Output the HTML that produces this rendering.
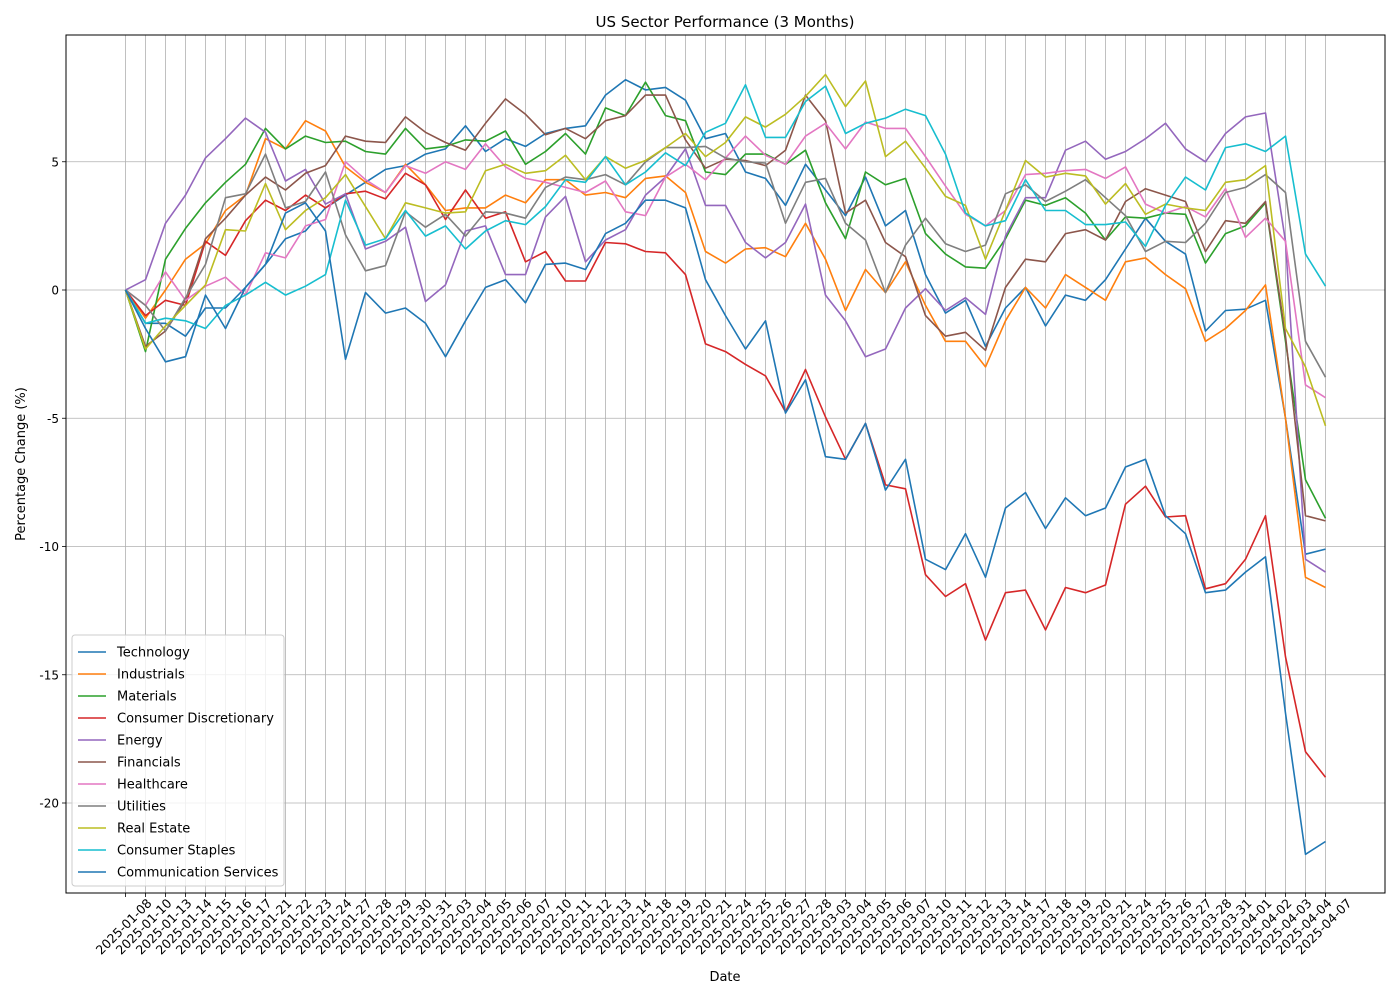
<!DOCTYPE html>
<html><head><meta charset="utf-8"><style>
body{margin:0;background:#fff;}
svg{display:block;font-family:"DejaVu Sans","Liberation Sans",sans-serif;}
</style></head><body>
<svg id="chart" width="1400" height="1000">
<rect x="0" y="0" width="1400" height="1000" fill="#fff"/>
<g id="grid"></g>
<g id="series"></g>
<rect x="66" y="35" width="1319" height="858" fill="none" stroke="#000" stroke-width="1"/>
<g id="axes"></g>
<text x="725" y="27" text-anchor="middle" font-size="15">US Sector Performance (3 Months)</text>
<text x="725" y="981" text-anchor="middle" font-size="13">Date</text>
<text transform="translate(25,464) rotate(-90)" text-anchor="middle" font-size="13">Percentage Change (%)</text>
<g id="legend"></g>
</svg>
<script>
const dates=["2025-01-08","2025-01-10","2025-01-13","2025-01-14","2025-01-15","2025-01-16","2025-01-17","2025-01-21","2025-01-22","2025-01-23","2025-01-24","2025-01-27","2025-01-28","2025-01-29","2025-01-30","2025-01-31","2025-02-03","2025-02-04","2025-02-05","2025-02-06","2025-02-07","2025-02-10","2025-02-11","2025-02-12","2025-02-13","2025-02-14","2025-02-18","2025-02-19","2025-02-20","2025-02-21","2025-02-24","2025-02-25","2025-02-26","2025-02-27","2025-02-28","2025-03-03","2025-03-04","2025-03-05","2025-03-06","2025-03-07","2025-03-10","2025-03-11","2025-03-12","2025-03-13","2025-03-14","2025-03-17","2025-03-18","2025-03-19","2025-03-20","2025-03-21","2025-03-24","2025-03-25","2025-03-26","2025-03-27","2025-03-28","2025-03-31","2025-04-01","2025-04-02","2025-04-03","2025-04-04","2025-04-07"];
const yTicks=[-20,-15,-10,-5,0,5];
const seriesNames=["Technology","Industrials","Materials","Consumer Discretionary","Energy","Financials","Healthcare","Utilities","Real Estate","Consumer Staples","Communication Services"];
const seriesColors=["#1f77b4","#ff7f0e","#2ca02c","#d62728","#9467bd","#8c564b","#e377c2","#7f7f7f","#bcbd22","#17becf","#1f77b4"];
const technology=[0,-1.3,-1.3,-1.8,-0.7,-0.7,0.1,1.0,2.0,2.3,3.2,3.7,4.2,4.7,4.85,5.3,5.5,6.4,5.4,5.9,5.6,6.1,6.3,6.4,7.6,8.2,7.8,7.9,7.4,5.9,6.1,4.6,4.35,3.3,4.9,3.9,2.9,4.4,2.5,3.1,0.6,-0.9,-0.4,-2.2,-0.7,0.1,-1.4,-0.2,-0.4,0.4,1.6,2.8,1.9,1.4,-1.6,-0.8,-0.75,-0.4,-5.0,-10.3,-10.1];
const industrials=[0,-1.1,0.0,1.2,1.8,3.1,3.7,5.9,5.5,6.6,6.2,4.8,4.2,3.8,4.9,4.1,3.1,3.2,3.2,3.7,3.4,4.3,4.3,3.7,3.8,3.6,4.35,4.45,3.8,1.5,1.05,1.6,1.65,1.3,2.6,1.2,-0.8,0.8,-0.1,1.1,-0.6,-2.0,-2.0,-3.0,-1.2,0.1,-0.7,0.6,0.1,-0.4,1.1,1.25,0.6,0.05,-2.0,-1.5,-0.8,0.2,-5.0,-11.2,-11.6];
const materials=[0,-2.4,1.2,2.4,3.4,4.2,4.9,6.3,5.5,6.0,5.75,5.8,5.4,5.3,6.3,5.5,5.6,5.85,5.8,6.2,4.9,5.4,6.1,5.3,7.1,6.8,8.1,6.8,6.6,4.6,4.5,5.3,5.3,4.9,5.45,3.4,2.0,4.6,4.1,4.35,2.2,1.4,0.9,0.85,2.0,3.5,3.3,3.6,3.0,1.95,2.85,2.8,3.0,2.95,1.05,2.2,2.5,3.4,-2.0,-7.4,-8.9];
const consumerDiscretionary=[0,-1.0,-0.4,-0.6,1.9,1.35,2.7,3.5,3.1,3.7,3.2,3.75,3.85,3.55,4.55,4.1,2.75,3.9,2.8,3.05,1.1,1.5,0.35,0.35,1.85,1.8,1.5,1.45,0.6,-2.1,-2.4,-2.9,-3.35,-4.75,-3.1,-4.95,-6.6,-5.2,-7.6,-7.75,-11.1,-11.95,-11.45,-13.65,-11.8,-11.7,-13.25,-11.6,-11.8,-11.5,-8.35,-7.65,-8.85,-8.8,-11.65,-11.45,-10.5,-8.8,-14.3,-18.0,-19.0];
const energy=[0,0.4,2.6,3.7,5.15,5.9,6.7,6.15,4.25,4.7,3.35,3.75,1.6,1.9,2.45,-0.45,0.2,2.3,2.5,0.6,0.6,2.85,3.65,1.1,1.95,2.35,3.7,4.4,5.5,3.3,3.3,1.85,1.25,1.85,3.35,-0.2,-1.2,-2.6,-2.3,-0.7,0.05,-0.8,-0.3,-0.95,2.1,3.6,3.6,5.45,5.8,5.1,5.4,5.9,6.5,5.5,5.0,6.1,6.75,6.9,1.9,-10.5,-11.0];
const financials=[0,-2.2,-1.6,-0.4,2.0,2.8,3.7,4.4,3.9,4.55,4.85,6.0,5.8,5.75,6.75,6.15,5.75,5.45,6.5,7.45,6.85,6.05,6.3,5.9,6.6,6.8,7.6,7.6,5.85,4.75,5.1,5.05,4.85,5.45,7.6,6.6,3.0,3.5,1.85,1.3,-1.0,-1.8,-1.65,-2.35,0.1,1.2,1.1,2.2,2.35,1.95,3.45,3.95,3.7,3.45,1.5,2.7,2.6,3.45,-1.8,-8.8,-9.0];
const healthcare=[0,-0.6,0.7,-0.4,0.15,0.5,-0.2,1.45,1.25,2.5,2.75,5.0,4.3,3.8,4.85,4.55,5.0,4.7,5.7,4.8,4.35,4.2,4.0,3.8,4.25,3.05,2.9,4.4,4.9,4.3,5.15,6.0,5.25,4.9,6.0,6.5,5.5,6.55,6.3,6.3,5.2,4.05,2.95,2.5,3.1,4.5,4.55,4.65,4.7,4.35,4.8,3.35,3.0,3.25,2.85,3.95,2.05,2.8,1.9,-3.7,-4.2];
const utilities=[0,-0.6,-1.6,-0.3,1.0,3.6,3.75,5.3,3.2,3.45,4.6,2.15,0.75,0.95,3.05,2.45,2.95,2.1,3.05,3.0,2.8,4.0,4.4,4.3,4.5,4.1,5.0,5.55,5.55,5.6,5.15,5.0,4.95,2.6,4.2,4.35,2.6,1.95,-0.1,1.75,2.8,1.8,1.5,1.75,3.75,4.1,3.45,3.85,4.3,3.6,2.9,1.5,1.9,1.85,2.6,3.8,4.0,4.5,3.8,-2.0,-3.4];
const realEstate=[0,-2.3,-1.4,-0.6,0.2,2.35,2.3,4.15,2.35,3.1,3.6,4.5,3.25,2.0,3.4,3.2,3.0,3.05,4.65,4.9,4.55,4.65,5.25,4.3,5.2,4.75,5.05,5.55,6.1,5.2,5.75,6.75,6.35,6.85,7.55,8.4,7.15,8.15,5.2,5.8,4.75,3.65,3.3,1.2,3.1,5.05,4.4,4.55,4.45,3.35,4.15,2.95,3.35,3.2,3.1,4.2,4.3,4.85,-1.5,-3.0,-5.3];
const consumerStaples=[0,-1.3,-1.1,-1.2,-1.5,-0.6,-0.2,0.3,-0.2,0.15,0.6,3.5,1.75,2.0,3.1,2.1,2.5,1.6,2.3,2.7,2.55,3.25,4.3,4.2,5.2,4.1,4.6,5.35,4.85,6.15,6.5,8.0,5.95,5.95,7.35,7.95,6.1,6.5,6.7,7.05,6.8,5.3,3.0,2.5,2.7,4.3,3.1,3.1,2.55,2.55,2.65,1.7,3.3,4.4,3.9,5.55,5.7,5.4,6.0,1.4,0.15];
const communicationServices=[0,-1.5,-2.8,-2.6,-0.2,-1.5,0.1,1.0,3.0,3.4,2.3,-2.7,-0.1,-0.9,-0.7,-1.3,-2.6,-1.2,0.1,0.4,-0.5,1.0,1.05,0.8,2.2,2.6,3.5,3.5,3.2,0.4,-1.0,-2.3,-1.2,-4.8,-3.5,-6.5,-6.6,-5.2,-7.8,-6.6,-10.5,-10.9,-9.5,-11.2,-8.5,-7.9,-9.3,-8.1,-8.8,-8.5,-6.9,-6.6,-8.8,-9.5,-11.8,-11.7,-11.0,-10.4,-16.5,-22.0,-21.5];
const allSeries=[technology,industrials,materials,consumerDiscretionary,energy,financials,healthcare,utilities,realEstate,consumerStaples,communicationServices];

const NS="http://www.w3.org/2000/svg";
const X0=125.5,X1=1325.5,Y0=290,PPU=25.65;
function xScale(i){return X0+(X1-X0)*i/(dates.length-1);}
function yScale(v){return Y0-v*PPU;}
function mk(tag,attrs,parent){const e=document.createElementNS(NS,tag);for(const k in attrs)e.setAttribute(k,attrs[k]);parent.appendChild(e);return e;}
const grid=document.getElementById('grid'),axes=document.getElementById('axes'),ser=document.getElementById('series'),leg=document.getElementById('legend');
dates.forEach((d,i)=>{
  const x=xScale(i);
  const gl=mk('line',{x1:x,x2:x,y1:35,y2:893,stroke:'#b0b0b0','stroke-width':0.8},grid);
  
  
  const t=mk('line',{x1:x,x2:x,y1:893,y2:897,stroke:'#000','stroke-width':0.8},axes);
  
  
  const lb=mk('text',{transform:`translate(${x+27},${904}) rotate(-45)`,'text-anchor':'end','font-size':12.5},axes);
  lb.textContent=d;
  
  
});
yTicks.forEach(v=>{
  const y=yScale(v);
  const gl=mk('line',{x1:66,x2:1385,y1:y,y2:y,stroke:'#b0b0b0','stroke-width':0.8},grid);
  
  
  const t=mk('line',{x1:62,x2:66,y1:y,y2:y,stroke:'#000','stroke-width':0.8},axes);
  
  
  const lb=mk('text',{x:59,y:y+4.5,'text-anchor':'end','font-size':12},axes);
  lb.textContent=String(v);
  
  
});
allSeries.forEach((s,k)=>{
  const pts=s.map((v,i)=>xScale(i).toFixed(1)+','+yScale(v).toFixed(1)).join(' ');
  const pl=mk('polyline',{points:pts,fill:'none',stroke:seriesColors[k],'stroke-width':1.6,'stroke-linejoin':'round'},ser);
  
  
});
const lbox=mk('rect',{x:72,y:635,width:212,height:251,rx:3,fill:'#fff','fill-opacity':0.8,stroke:'#ccc','stroke-width':1},leg);


seriesNames.forEach((n,k)=>{
  const y=652+k*22;
  const ln=mk('line',{x1:78,x2:106,y1:y,y2:y,stroke:seriesColors[k],'stroke-width':1.6},leg);
  
  
  const tx=mk('text',{x:117,y:y+4.5,'font-size':13},leg);
  tx.textContent=n;
  
  
});
</script>
</body></html>
